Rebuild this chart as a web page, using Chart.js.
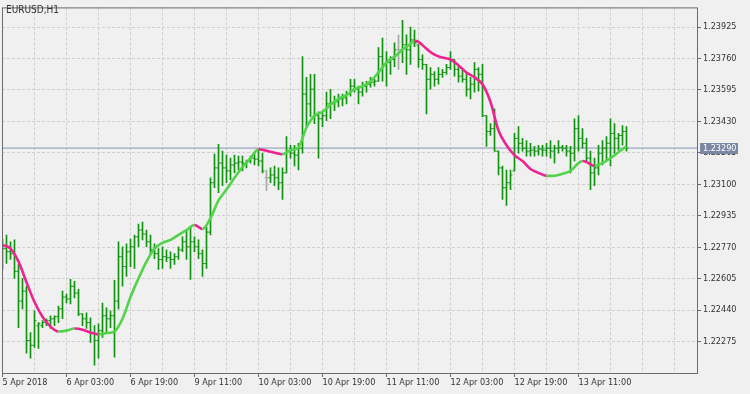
<!DOCTYPE html>
<html>
<head>
<meta charset="utf-8">
<title>EURUSD,H1</title>
<script src="https://cdn.jsdelivr.net/npm/chart.js@4.4.1/dist/chart.umd.min.js"></script>
<style>
  html, body { margin: 0; padding: 0; background: #f0f0f0; }
  canvas { display: block; }
</style>
</head>
<body>
<canvas id="chart" width="750" height="394"></canvas>
<script>
const symbol = "EURUSD,H1";
const bidPrice = 1.23290;

// hourly bars, 5 Apr 11:00 .. 13 Apr 23:00 (weekend skipped)
const high = [
  1.22813, 1.22834, 1.22798, 1.22808, 1.22679, 1.22606, 1.22565, 1.22322, 1.22436, 1.22374,
  1.22384, 1.22394, 1.22410, 1.22410, 1.22461, 1.22539, 1.22524, 1.22601, 1.22591, 1.22549,
  1.22420, 1.22425, 1.22399, 1.22358, 1.22368, 1.22477, 1.22451, 1.22436, 1.22596, 1.22798,
  1.22772, 1.22787, 1.22813, 1.22834, 1.22891, 1.22901, 1.22860, 1.22834, 1.22787, 1.22762,
  1.22772, 1.22756, 1.22746, 1.22736, 1.22772, 1.22824, 1.22860, 1.22875, 1.22824, 1.22808,
  1.22756, 1.22875, 1.23134, 1.23258, 1.23310, 1.23274, 1.23253, 1.23237, 1.23253, 1.23248,
  1.23248, 1.23227, 1.23248, 1.23263, 1.23279, 1.23263, 1.23175, 1.23186, 1.23196, 1.23186,
  1.23186, 1.23351, 1.23305, 1.23305, 1.23315, 1.23770, 1.23661, 1.23677, 1.23677, 1.23480,
  1.23486, 1.23584, 1.23599, 1.23563, 1.23574, 1.23574, 1.23589, 1.23651, 1.23651, 1.23615,
  1.23636, 1.23641, 1.23661, 1.23651, 1.23817, 1.23868, 1.23796, 1.23770, 1.23842, 1.23884,
  1.23961, 1.23884, 1.23925, 1.23910, 1.23832, 1.23780, 1.23729, 1.23713, 1.23692, 1.23713,
  1.23703, 1.23729, 1.23796, 1.23755, 1.23718, 1.23703, 1.23687, 1.23661, 1.23739, 1.23713,
  1.23729, 1.23460, 1.23418, 1.23496, 1.23274, 1.23196, 1.23175, 1.23175, 1.23367, 1.23403,
  1.23341, 1.23330, 1.23315, 1.23299, 1.23305, 1.23305, 1.23315, 1.23330, 1.23305, 1.23330,
  1.23305, 1.23305, 1.23299, 1.23444, 1.23460, 1.23392, 1.23341, 1.23274, 1.23237, 1.23305,
  1.23330, 1.23351, 1.23444, 1.23418, 1.23367, 1.23408, 1.23403
];
const low = [
  1.22653, 1.22684, 1.22705, 1.22606, 1.22348, 1.22446, 1.22213, 1.22187, 1.22244, 1.22239,
  1.22348, 1.22358, 1.22343, 1.22358, 1.22374, 1.22394, 1.22477, 1.22472, 1.22503, 1.22410,
  1.22358, 1.22343, 1.22270, 1.22151, 1.22187, 1.22296, 1.22322, 1.22348, 1.22193, 1.22446,
  1.22565, 1.22617, 1.22668, 1.22658, 1.22772, 1.22808, 1.22772, 1.22736, 1.22710, 1.22653,
  1.22658, 1.22694, 1.22658, 1.22679, 1.22705, 1.22746, 1.22705, 1.22601, 1.22746, 1.22710,
  1.22617, 1.22658, 1.22834, 1.23082, 1.23056, 1.23093, 1.23108, 1.23124, 1.23160, 1.23175,
  1.23170, 1.23186, 1.23211, 1.23201, 1.23196, 1.23160, 1.23067, 1.23108, 1.23093, 1.23072,
  1.23020, 1.23160, 1.23237, 1.23196, 1.23175, 1.23263, 1.23403, 1.23455, 1.23418, 1.23237,
  1.23403, 1.23434, 1.23444, 1.23486, 1.23506, 1.23511, 1.23522, 1.23563, 1.23584, 1.23522,
  1.23563, 1.23584, 1.23610, 1.23615, 1.23641, 1.23641, 1.23615, 1.23677, 1.23718, 1.23703,
  1.23739, 1.23677, 1.23729, 1.23822, 1.23713, 1.23703, 1.23470, 1.23599, 1.23615, 1.23625,
  1.23661, 1.23677, 1.23703, 1.23667, 1.23636, 1.23636, 1.23563, 1.23548, 1.23584, 1.23589,
  1.23455, 1.23299, 1.23356, 1.23274, 1.23149, 1.23020, 1.22989, 1.23072, 1.23170, 1.23263,
  1.23274, 1.23248, 1.23248, 1.23248, 1.23253, 1.23248, 1.23248, 1.23237, 1.23211, 1.23263,
  1.23274, 1.23248, 1.23160, 1.23222, 1.23274, 1.23289, 1.23222, 1.23072, 1.23093, 1.23149,
  1.23201, 1.23227, 1.23196, 1.23263, 1.23279, 1.23305, 1.23274
];
const open = [
  1.22720, 1.22762, 1.22746, 1.22736, 1.22643, 1.22487, 1.22539, 1.22280, 1.22255, 1.22358,
  1.22358, 1.22374, 1.22384, 1.22394, 1.22405, 1.22446, 1.22508, 1.22498, 1.22565, 1.22529,
  1.22420, 1.22394, 1.22374, 1.22317, 1.22280, 1.22332, 1.22410, 1.22394, 1.22410, 1.22487,
  1.22720, 1.22668, 1.22746, 1.22772, 1.22824, 1.22860, 1.22839, 1.22798, 1.22756, 1.22736,
  1.22705, 1.22720, 1.22715, 1.22705, 1.22720, 1.22756, 1.22798, 1.22772, 1.22798, 1.22772,
  1.22736, 1.22684, 1.22849, 1.23108, 1.23186, 1.23211, 1.23186, 1.23170, 1.23201, 1.23211,
  1.23217, 1.23211, 1.23222, 1.23237, 1.23232, 1.23222, 1.23134, 1.23134, 1.23149, 1.23134,
  1.23108, 1.23160, 1.23274, 1.23263, 1.23253, 1.23289, 1.23574, 1.23522, 1.23599, 1.23460,
  1.23444, 1.23460, 1.23522, 1.23527, 1.23532, 1.23548, 1.23553, 1.23574, 1.23615, 1.23599,
  1.23584, 1.23615, 1.23625, 1.23636, 1.23641, 1.23770, 1.23729, 1.23739, 1.23755, 1.23806,
  1.23806, 1.23832, 1.23806, 1.23858, 1.23832, 1.23755, 1.23729, 1.23651, 1.23677, 1.23651,
  1.23677, 1.23687, 1.23713, 1.23755, 1.23703, 1.23667, 1.23651, 1.23599, 1.23625, 1.23703,
  1.23677, 1.23460, 1.23377, 1.23392, 1.23274, 1.23186, 1.23082, 1.23108, 1.23170, 1.23341,
  1.23315, 1.23289, 1.23274, 1.23279, 1.23274, 1.23284, 1.23279, 1.23289, 1.23274, 1.23289,
  1.23294, 1.23289, 1.23274, 1.23263, 1.23392, 1.23341, 1.23315, 1.23237, 1.23160, 1.23186,
  1.23263, 1.23289, 1.23315, 1.23367, 1.23341, 1.23356, 1.23377
];
const close = [
  1.22762, 1.22746, 1.22736, 1.22643, 1.22487, 1.22539, 1.22280, 1.22255, 1.22384, 1.22368,
  1.22374, 1.22384, 1.22394, 1.22405, 1.22446, 1.22508, 1.22498, 1.22565, 1.22529, 1.22420,
  1.22394, 1.22374, 1.22317, 1.22280, 1.22332, 1.22410, 1.22394, 1.22410, 1.22487, 1.22720,
  1.22668, 1.22746, 1.22772, 1.22824, 1.22860, 1.22839, 1.22798, 1.22756, 1.22736, 1.22705,
  1.22720, 1.22715, 1.22705, 1.22720, 1.22756, 1.22798, 1.22772, 1.22798, 1.22772, 1.22736,
  1.22684, 1.22849, 1.23108, 1.23186, 1.23211, 1.23186, 1.23170, 1.23201, 1.23211, 1.23217,
  1.23211, 1.23222, 1.23237, 1.23232, 1.23222, 1.23170, 1.23134, 1.23149, 1.23134, 1.23108,
  1.23160, 1.23274, 1.23263, 1.23253, 1.23289, 1.23574, 1.23522, 1.23599, 1.23460, 1.23444,
  1.23460, 1.23522, 1.23527, 1.23532, 1.23548, 1.23553, 1.23574, 1.23615, 1.23599, 1.23584,
  1.23615, 1.23625, 1.23636, 1.23641, 1.23770, 1.23729, 1.23739, 1.23755, 1.23806, 1.23806,
  1.23832, 1.23806, 1.23858, 1.23842, 1.23755, 1.23729, 1.23651, 1.23677, 1.23651, 1.23677,
  1.23687, 1.23713, 1.23755, 1.23703, 1.23667, 1.23651, 1.23599, 1.23625, 1.23703, 1.23677,
  1.23460, 1.23377, 1.23392, 1.23274, 1.23186, 1.23082, 1.23108, 1.23149, 1.23341, 1.23315,
  1.23289, 1.23274, 1.23279, 1.23274, 1.23284, 1.23279, 1.23289, 1.23274, 1.23289, 1.23294,
  1.23289, 1.23274, 1.23263, 1.23392, 1.23341, 1.23315, 1.23237, 1.23160, 1.23186, 1.23263,
  1.23289, 1.23315, 1.23367, 1.23341, 1.23356, 1.23377, 1.23290
];

// moving average, read at these bar numbers
const maBars = [
  0, 2, 4, 6, 8, 10, 12, 14, 16, 18, 20, 22, 24, 26, 28, 30, 32, 34, 36, 38,
  40, 42, 44, 46, 48, 50, 52, 54, 56, 58, 60, 62, 64, 66, 68, 70, 72, 74, 76, 78,
  80, 82, 84, 86, 88, 90, 92, 94, 96, 98, 100, 102, 103, 104, 106, 108, 110, 112, 114, 116,
  118, 120, 122, 124, 126, 128, 130, 132, 134, 136, 138, 140, 142, 144, 145, 146, 148, 150, 152, 154,
  156
];
const maValues = [
  1.22782, 1.22762, 1.22694, 1.22586, 1.22482, 1.22405, 1.22353, 1.22327, 1.22332, 1.22343,
  1.22337, 1.22322, 1.22312, 1.22319, 1.22327, 1.22394, 1.22508, 1.22606, 1.22694, 1.22762,
  1.22793, 1.22808, 1.22834, 1.22860, 1.22886, 1.22865, 1.22922, 1.23015, 1.23072, 1.23134,
  1.23191, 1.23237, 1.23284, 1.23276, 1.23266, 1.23258, 1.23279, 1.23294, 1.23398, 1.23460,
  1.23480, 1.23517, 1.23548, 1.23568, 1.23599, 1.23615, 1.23641, 1.23687, 1.23739, 1.23770,
  1.23806, 1.23837, 1.23853, 1.23848, 1.23811, 1.23780, 1.23765, 1.23755, 1.23724, 1.23687,
  1.23661, 1.23625, 1.23532, 1.23382, 1.23305, 1.23253, 1.23222, 1.23180, 1.23160, 1.23144,
  1.23145, 1.23155, 1.23170, 1.23211, 1.23222, 1.23217, 1.23196, 1.23211, 1.23237, 1.23268,
  1.23299
];

const xLabelBars = [0, 16, 32, 48, 64, 80, 96, 112, 128, 144];
const xLabels = [
  "5 Apr 2018", "6 Apr 03:00", "6 Apr 19:00", "9 Apr 11:00", "10 Apr 03:00",
  "10 Apr 19:00", "11 Apr 11:00", "12 Apr 03:00", "12 Apr 19:00", "13 Apr 11:00"
];
const yTicks = [1.22275, 1.22440, 1.22605, 1.22770, 1.22935, 1.23100, 1.23265, 1.23430, 1.23595, 1.23760, 1.23925];

const barGreen = "#109410";
const dojiGray = "#a8a8a8";
const maUp = "#52d44a";
const maDown = "#ee2290";
const gridColor = "#cfcfcf";
const textColor = "#333333";
const frameColor = "#6b6b6b";
const font = { family: '"DejaVu Sans Condensed", "Liberation Sans", sans-serif', size: 9 };

function barColor(i) {
  return open[i] === close[i] ? dojiGray : barGreen;
}

const xGrid = [];
for (let v = 0; v <= 168; v += 8) xGrid.push(v);

const chromePlugin = {
  id: "chrome",
  afterDraw(chart) {
    const { ctx, chartArea: a, scales } = chart;
    ctx.save();
    ctx.strokeStyle = frameColor;
    ctx.lineWidth = 1;
    ctx.strokeRect(a.left + 0.5, a.top + 0.5, a.right - a.left, a.bottom - a.top);

    ctx.font = `10px ${font.family}`;
    ctx.textBaseline = "middle";
    ctx.fillStyle = textColor;
    ctx.fillText(symbol, 6, 10);

    // current price tag on the price scale
    const py = Math.round(scales.y.getPixelForValue(bidPrice));
    ctx.fillStyle = "#7a88a3";
    ctx.fillRect(a.right + 3, py - 5, 38, 11);
    ctx.font = `${font.size}px ${font.family}`;
    ctx.fillStyle = "#ffffff";
    ctx.fillText(bidPrice.toFixed(5), a.right + 6, py + 0.5);
    ctx.restore();
  }
};

new Chart(document.getElementById("chart"), {
  type: "bar",
  data: {
    datasets: [
      {
        type: "line",
        order: 0,
        data: maBars.map((b, k) => ({ x: b, y: maValues[k] })),
        borderColor: maUp,
        borderWidth: 2.6,
        pointRadius: 0,
        cubicInterpolationMode: "monotone",
        segment: {
          borderColor: c => (c.p1.parsed.y >= c.p0.parsed.y ? maUp : maDown)
        }
      },
      {
        type: "line",
        order: 1,
        showLine: false,
        data: open.map((v, i) => ({ x: i - 0.25, y: v })),
        pointStyle: "line",
        pointRadius: 1,
        pointHoverRadius: 1,
        pointBorderWidth: 1,
        pointBorderColor: c => barColor(c.dataIndex)
      },
      {
        type: "line",
        order: 1,
        showLine: false,
        data: close.map((v, i) => ({ x: i + 0.25, y: v })),
        pointStyle: "line",
        pointRadius: 1,
        pointHoverRadius: 1,
        pointBorderWidth: 1,
        pointBorderColor: c => barColor(c.dataIndex)
      },
      {
        type: "bar",
        order: 2,
        data: high.map((h, i) => ({ x: i, y: [low[i], h] })),
        backgroundColor: c => barColor(c.dataIndex),
        borderWidth: 0,
        barThickness: 1,
        grouped: false
      },
      {
        type: "line",
        order: 3,
        data: [{ x: -1, y: bidPrice }, { x: 200, y: bidPrice }],
        borderColor: "#8595b4",
        borderWidth: 1,
        pointRadius: 0
      }
    ]
  },
  options: {
    responsive: false,
    devicePixelRatio: 1,
    animation: false,
    events: [],
    layout: { padding: { left: 2, top: 2, right: 0, bottom: 0 } },
    plugins: { legend: { display: false }, tooltip: { enabled: false } },
    scales: {
      x: {
        type: "linear",
        min: -0.125,
        max: 173.625,
        offset: false,
        afterBuildTicks: s => { s.ticks = xGrid.map(v => ({ value: v })); },
        afterFit: s => { s.height = 21; },
        grid: {
          offset: false,
          color: gridColor,
          tickLength: 4,
          tickColor: c => (xLabelBars.includes(xGrid[c.index]) ? frameColor : "rgba(0,0,0,0)")
        },
        border: { display: false, dash: [3, 2] },
        ticks: {
          align: "start",
          maxRotation: 0,
          autoSkip: false,
          padding: 0,
          color: textColor,
          font,
          callback: v => {
            const k = xLabelBars.indexOf(v);
            return k >= 0 ? xLabels[k] : "";
          }
        }
      },
      y: {
        type: "linear",
        position: "right",
        min: 1.2210948,
        max: 1.2402845,
        afterBuildTicks: s => { s.ticks = yTicks.map(v => ({ value: v })); },
        afterFit: s => { s.width = 53; },
        grid: { color: gridColor, tickLength: 4, tickColor: frameColor },
        border: { display: false, dash: [3, 2] },
        ticks: {
          padding: 2,
          color: textColor,
          font,
          callback: v => v.toFixed(5)
        }
      }
    }
  },
  plugins: [chromePlugin]
});
</script>
</body>
</html>
